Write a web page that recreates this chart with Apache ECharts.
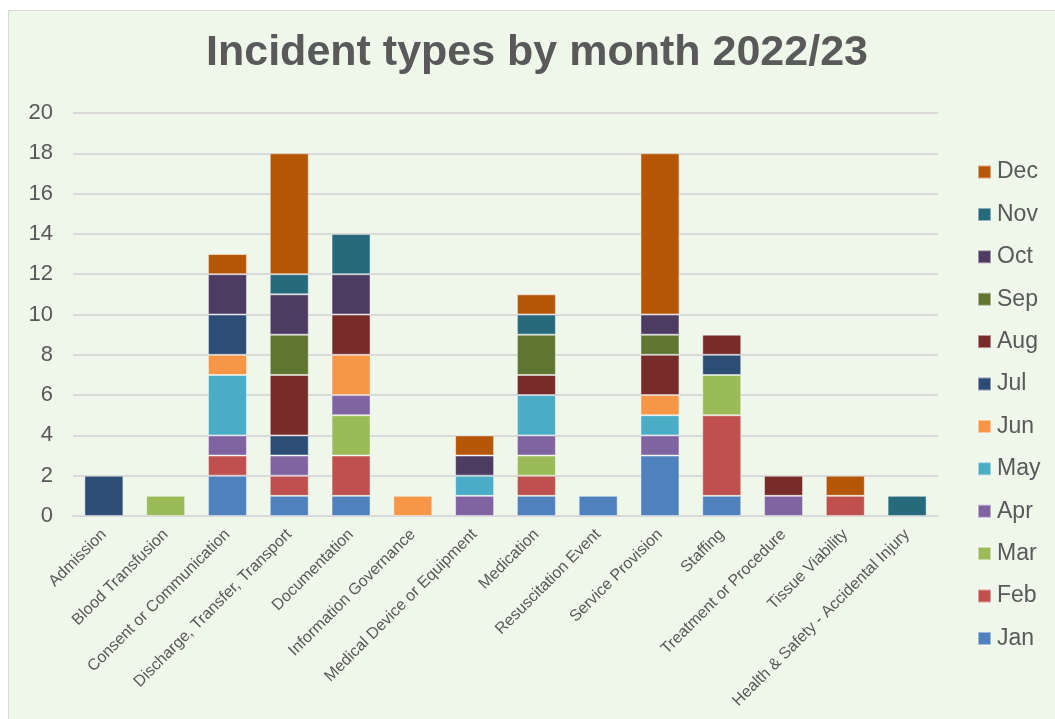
<!DOCTYPE html>
<html>
<head>
<meta charset="utf-8">
<script src="https://cdn.jsdelivr.net/npm/echarts@6/dist/echarts.min.js"></script>
<style>
  html, body { margin: 0; padding: 0; background: #ffffff; width: 1055px; height: 719px; overflow: hidden; }
  #frame { position: absolute; left: 8px; top: 10px; width: 1060px; height: 720px; background: #EFF6EA; border: 1px solid #D9D9D9; }
  #chart { position: absolute; left: 0; top: 0; width: 1055px; height: 719px; }
</style>
</head>
<body>
<div id="frame"></div>
<div id="chart"></div>
<script>
const title = 'Incident types by month 2022/23';
const categories = [
  'Admission', 'Blood Transfusion', 'Consent or Communication', 'Discharge, Transfer, Transport',
  'Documentation', 'Information Governance', 'Medical Device or Equipment', 'Medication',
  'Resuscitation Event', 'Service Provision', 'Staffing', 'Treatment or Procedure',
  'Tissue Viability', 'Health & Safety - Accidental Injury'
];
const months = ['Jan','Feb','Mar','Apr','May','Jun','Jul','Aug','Sep','Oct','Nov','Dec'];
const janValues = [0,0,2,1,1,0,0,1,1,3,1,0,0,0];
const febValues = [0,0,1,1,2,0,0,1,0,0,4,0,1,0];
const marValues = [0,1,0,0,2,0,0,1,0,0,2,0,0,0];
const aprValues = [0,0,1,1,1,0,1,1,0,1,0,1,0,0];
const mayValues = [0,0,3,0,0,0,1,2,0,1,0,0,0,0];
const junValues = [0,0,1,0,2,1,0,0,0,1,0,0,0,0];
const julValues = [2,0,2,1,0,0,0,0,0,0,1,0,0,0];
const augValues = [0,0,0,3,2,0,0,1,0,2,1,1,0,0];
const sepValues = [0,0,0,2,0,0,0,2,0,1,0,0,0,0];
const octValues = [0,0,2,2,2,0,1,0,0,1,0,0,0,0];
const novValues = [0,0,0,1,2,0,0,1,0,0,0,0,0,1];
const decValues = [0,0,1,6,0,0,1,1,0,8,0,0,1,0];
const yTicks = { min: 0, max: 20, interval: 2 };

const monthValues = [janValues, febValues, marValues, aprValues, mayValues, junValues,
                     julValues, augValues, sepValues, octValues, novValues, decValues];
const colors = ['#4F81BD','#C0504D','#9BBB59','#8064A2','#4BACC6','#F79646',
                '#2C4D75','#772C2A','#5F7530','#4D3B62','#276A7C','#B65708'];

const series = months.map((m, i) => ({
  name: m,
  type: 'bar',
  stack: 'total',
  barWidth: 39,
  itemStyle: { color: colors[i], borderColor: 'rgba(255,255,255,0.45)', borderWidth: 1 },
  data: monthValues[i].map(v => v === 0 ? null : v)
}));

const chart = echarts.init(document.getElementById('chart'), null, { renderer: 'canvas' });
chart.setOption({
  animation: false,
  color: colors,
  title: {
    text: title,
    left: 537,
    textAlign: 'center',
    top: 32,
    padding: 0,
    textStyle: { fontFamily: 'Liberation Sans, Arial, sans-serif', fontSize: 43, fontWeight: 'bold', color: '#595959' }
  },
  legend: {
    orient: 'vertical',
    left: 977,
    top: 160,
    padding: 0,
    itemWidth: 13,
    itemHeight: 13,
    itemGap: 18.4,
    icon: 'rect',
    data: months.slice().reverse(),
    textStyle: { fontFamily: 'Liberation Sans, Arial, sans-serif', fontSize: 23, color: '#595959', lineHeight: 24, padding: [0,0,0,1] }
  },
  grid: { left: 73, right: 117, top: 113, bottom: 203, containLabel: false },
  xAxis: {
    type: 'category',
    data: categories,
    axisLine: { show: true, lineStyle: { color: '#D9D9D9', width: 2 } },
    axisTick: { show: false },
    axisLabel: {
      rotate: 45,
      interval: 0,
      margin: 16,
      fontFamily: 'Liberation Sans, Arial, sans-serif',
      fontSize: 16,
      color: '#595959'
    }
  },
  yAxis: {
    type: 'value',
    min: yTicks.min,
    max: yTicks.max,
    interval: yTicks.interval,
    axisLine: { show: false },
    axisTick: { show: false },
    splitLine: { lineStyle: { color: '#D9D9D9', width: 2 } },
    axisLabel: {
      margin: 20,
      fontFamily: 'Liberation Sans, Arial, sans-serif',
      fontSize: 22,
      color: '#595959'
    }
  },
  series: series
});
</script>
</body>
</html>
